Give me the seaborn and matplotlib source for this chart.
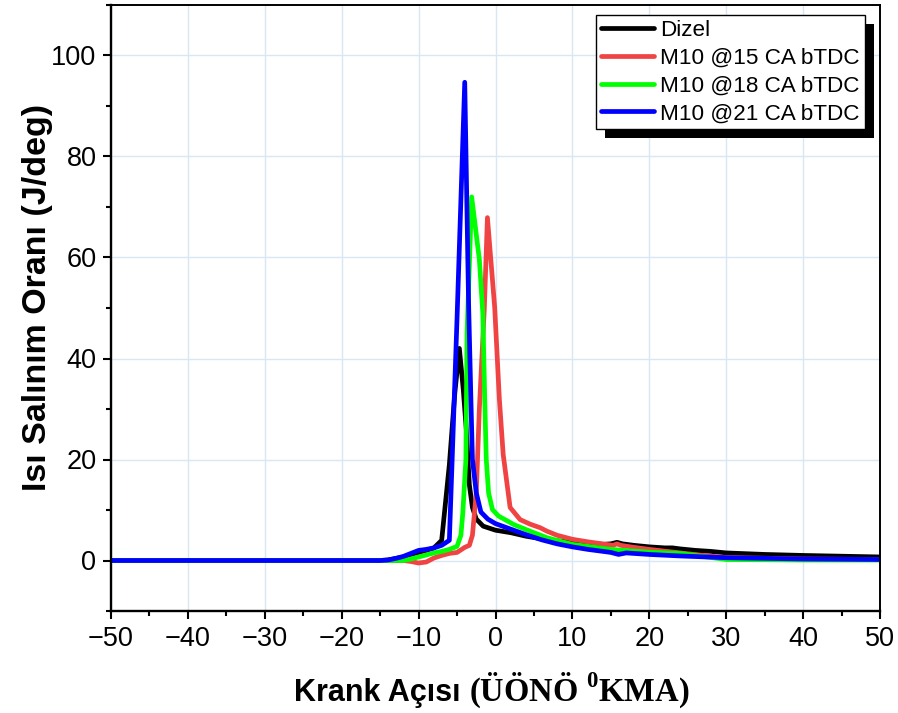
import matplotlib
matplotlib.use("Agg")
import numpy as np
import pandas as pd
import seaborn as sns
import matplotlib.pyplot as plt
from matplotlib.patches import Rectangle
from matplotlib.transforms import IdentityTransform
from matplotlib.offsetbox import TextArea, HPacker, AnchoredOffsetbox
from matplotlib.ticker import MultipleLocator

# ---------------- data ----------------
series_names = ["Dizel", "M10 @15 CA bTDC", "M10 @18 CA bTDC", "M10 @21 CA bTDC"]
series_colors = ["#000000", "#F04343", "#00FF00", "#0000FF"]

dizel_x = [-50, -15, -14, -13, -12, -11, -10, -9, -8, -7, -6, -5.3, -4.7, -4.2, -3.8, -3.4, -3, -2.5,
           -1.6, 0, 2, 4, 6, 8, 10, 12, 14, 15, 15.8, 16.5, 18, 20, 22, 23, 24, 26, 28, 30, 35, 40, 45, 50]
dizel_y = [0, 0, 0.1, 0.4, 0.7, 1.2, 1.6, 2.0, 2.5, 4.0, 19, 33, 42, 34, 26, 15, 10.5, 8.2,
           6.8, 6.0, 5.5, 4.8, 4.3, 3.9, 3.6, 3.4, 3.2, 3.3, 3.6, 3.3, 3.0, 2.7, 2.5, 2.5, 2.3, 2.0, 1.8, 1.5, 1.2, 1.0, 0.85, 0.7]

m15_x = [-50, -12, -11, -10, -9, -8, -7, -6, -5, -4, -3.4, -3, -2.5, -2.1, -1.45, -1.05, -0.1, 0.5, 1.0,
         1.9, 3.2, 4.5, 5.8, 6.7, 8, 10, 12, 15.3, 15.8, 16.3, 18, 20, 24, 27, 30, 40, 50]
m15_y = [0, 0, -0.2, -0.5, -0.3, 0.5, 1.0, 1.4, 1.6, 2.6, 3.0, 5.0, 13.4, 30, 50, 67.9, 50, 32, 21,
         10.5, 8.1, 7.2, 6.5, 5.8, 5.0, 4.2, 3.7, 3.0, 3.3, 3.0, 2.6, 2.2, 1.5, 1.0, 0.6, 0.3, 0.2]

m18_x = [-50, -12, -11, -10, -9, -8, -7, -6, -5, -4.5, -4.25, -3.85, -3.7, -3.1, -2.1, -1.65, -1.4, -1.2,
         -0.9, -0.4, 0.4, 2.4, 4.5, 6.7, 10, 15, 20, 24, 27, 30, 40, 50]
m18_y = [0, 0, 0.3, 0.7, 1.1, 1.5, 1.8, 2.2, 2.8, 5.0, 9.4, 20, 45, 72, 59.6, 49, 32, 20,
         13.4, 10.1, 8.8, 7.1, 5.8, 4.5, 3.2, 2.2, 1.65, 1.4, 0.8, 0.2, 0.1, 0.1]

m21_x = [-50, -15, -14, -13, -12, -11, -10, -9, -8, -7, -6, -5, -4, -3.5, -3.2, -3, -2.5, -1.9, -1, 0,
         2, 4, 6, 8, 10, 12, 14, 15, 16, 17, 20, 24, 30, 40, 50]
m21_y = [0, 0, 0.1, 0.4, 0.8, 1.4, 2.0, 2.2, 2.5, 3.0, 4.0, 48, 94.7, 51, 32, 20, 13.4, 9.6, 8.2, 7.3,
         6.2, 5.1, 4.1, 3.3, 2.7, 2.2, 1.8, 1.6, 1.2, 1.5, 1.2, 0.9, 0.55, 0.3, 0.2]

x_ticks = [-50, -40, -30, -20, -10, 0, 10, 20, 30, 40, 50]
y_ticks = [0, 20, 40, 60, 80, 100]

# ---------------- figure ----------------
sns.set_style("ticks")
plt.rcParams['font.family'] = ['Liberation Sans', 'DejaVu Sans']
plt.rcParams['mathtext.fontset'] = 'custom'
plt.rcParams['mathtext.rm'] = 'Liberation Serif'
plt.rcParams['mathtext.bf'] = 'Liberation Serif:bold'
for k in ['text.color', 'axes.labelcolor', 'xtick.color', 'ytick.color', 'axes.edgecolor']:
    plt.rcParams[k] = 'black'

W, H = 898, 713
fig = plt.figure(figsize=(W / 100, H / 100), dpi=100)
ax = fig.add_axes([111 / W, 1 - 611 / H, (880 - 111) / W, (611 - 5) / H])

frames = []
for name, xs, ys in zip(series_names, [dizel_x, m15_x, m18_x, m21_x], [dizel_y, m15_y, m18_y, m21_y]):
    frames.append(pd.DataFrame({"x": xs, "y": ys, "series": name}))
df = pd.concat(frames, ignore_index=True)

sns.lineplot(data=df, x="x", y="y", hue="series", hue_order=series_names,
             palette=dict(zip(series_names, series_colors)), estimator=None, sort=False,
             linewidth=3.4, ax=ax, legend=False, solid_joinstyle="round", solid_capstyle="round")

ax.set_xlim(-50, 50)
ax.set_ylim(-10, 110)
ax.set_xticks(x_ticks)
ax.set_yticks(y_ticks)
ax.xaxis.set_minor_locator(MultipleLocator(5))
ax.yaxis.set_minor_locator(MultipleLocator(10))
ax.grid(True, which="major", color="#d9e6f3", linewidth=1.0)
ax.set_axisbelow(True)
ax.tick_params(axis="both", which="major", direction="out", length=6, width=1.5,
               labelsize=19.5, pad=4.5, colors="black")
ax.tick_params(axis="both", which="minor", direction="out", length=3.5, width=1.5)
for side in ["left", "bottom"]:
    ax.spines[side].set_linewidth(1.7)
for side in ["top", "right"]:
    ax.spines[side].set_linewidth(1.4)
for s in ax.spines.values():
    s.set_color("black")

ax.set_xlabel("")
ax.set_ylabel("Isı Salınım Oranı (J/deg)", fontsize=24.5, fontweight="bold",
              family=["Liberation Sans", "DejaVu Sans"], color="black")
ax.yaxis.set_label_coords(-0.076, 0.518)

# legend
handles = [plt.Line2D([], [], color=c, lw=3.4) for c in series_colors]
leg = ax.legend(handles, series_names, loc="upper left",
                bbox_to_anchor=(596 / W, 1 - 15 / H), bbox_transform=fig.transFigure,
                fontsize=16.2, frameon=True, fancybox=False, framealpha=1, edgecolor="black",
                handlelength=2.35, handletextpad=0.28, labelspacing=0.3, borderpad=0.22,
                borderaxespad=0)
leg.get_frame().set_linewidth(1.0)
leg.set_zorder(6)
for t in leg.get_texts():
    t.set_color("black")

fig.canvas.draw()
bb = leg.get_window_extent()
shadow = Rectangle((bb.x0 + 9, bb.y0 - 9), bb.width, bb.height, transform=IdentityTransform(),
                   facecolor="black", edgecolor="none", zorder=5.5, clip_on=False)
ax.add_artist(shadow)

# x label: mixed fonts
t1 = TextArea("Krank Açısı ", textprops=dict(fontsize=22, fontweight="bold", color="black",
                                              family=["Liberation Sans", "DejaVu Sans"]))
t2 = TextArea(r"(ÜÖNÖ $^{\mathbf{0}}$KMA)", textprops=dict(fontsize=23.5, fontweight="bold", color="black",
                                                          family=["Liberation Serif", "DejaVu Serif"]))
pack = HPacker(children=[t1, t2], align="baseline", pad=0, sep=0)
box = AnchoredOffsetbox(loc="center", child=pack, pad=0, borderpad=0, frameon=False,
                        bbox_to_anchor=(492 / W, 1 - 690 / H), bbox_transform=fig.transFigure)
fig.add_artist(box)

fig.savefig("out.png", dpi=100)
